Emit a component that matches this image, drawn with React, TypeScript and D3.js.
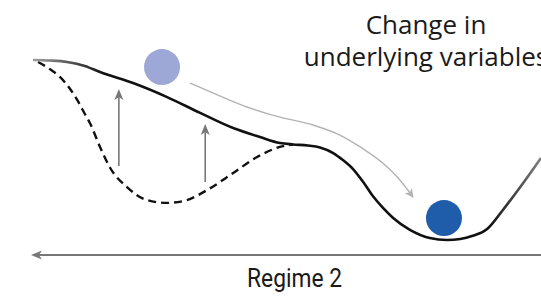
import React from "react";
import * as d3 from "d3";

const W = 541;
const H = 296;

// Landscape: state (0..10) vs potential (0..10)
const solidState = [0, 0.33, 0.67, 1.02, 1.32, 1.97, 2.64, 3.29, 3.94, 4.47, 4.86, 5.12, 5.41, 5.65, 5.91, 6.1, 6.3, 6.5, 6.69, 6.89, 7.09, 7.42, 7.81, 8.15, 8.41, 8.64, 8.94, 9.25, 9.65, 10];
const solidPotential = [10, 9.97, 9.89, 9.67, 9.33, 8.72, 7.94, 7.06, 6.22, 5.72, 5.39, 5.31, 5.25, 5.14, 4.83, 4.44, 3.94, 3.22, 2.44, 1.78, 1.22, 0.56, 0.11, 0, 0.06, 0.22, 0.61, 1.67, 3.17, 4.56];

const dashedState = [0.1, 0.33, 0.53, 0.73, 0.87, 1.0, 1.12, 1.32, 1.52, 1.85, 2.24, 2.64, 3.03, 3.43, 3.94, 4.41, 4.86, 5.12];
const dashedPotential = [9.89, 9.5, 9.06, 8.39, 7.78, 7.11, 6.5, 5.17, 4.0, 2.94, 2.22, 2.06, 2.22, 2.78, 3.72, 4.61, 5.17, 5.31];

const shiftState = [3.09, 3.54, 4.21, 4.86, 5.51, 6.04, 6.44, 6.93, 7.17, 7.48];
const shiftPotential = [8.72, 8.17, 7.39, 6.83, 6.39, 5.83, 5.17, 4.17, 3.5, 2.39];

const liftState = [1.69, 3.39];
const liftFrom = [4.11, 3.22];
const liftTo = [8.39, 6.44];

const ballState = [2.54, 8.09];
const ballPotential = [9.61, 1.22];
const ballColors = ["#9ea8d6", "#1f5dab"];

const axisPotential = -0.83;
const axisState = [-0.04, 10];

const titleLines = ["Change in", "underlying variables"];
const axisLabel = "Regime 2";

export default function App() {
  const x = d3.scaleLinear().domain([0, 10]).range([33, 541]);
  const y = d3.scaleLinear().domain([0, 10]).range([240, 60]);

  const line = d3
    .line<[number, number]>()
    .x((d) => x(d[0]))
    .y((d) => y(d[1]))
    .curve(d3.curveMonotoneX);

  const solid = line(solidState.map((s, i) => [s, solidPotential[i]]) as [number, number][]);
  const dashed = line(dashedState.map((s, i) => [s, dashedPotential[i]]) as [number, number][]);
  const shift = line(shiftState.map((s, i) => [s, shiftPotential[i]]) as [number, number][]);

  const ay = y(axisPotential);
  const ax0 = x(axisState[0]);
  const ax1 = x(axisState[1]);

  return (
    <svg width={W} height={H} style={{ position: "absolute", left: 0, top: 0 }}>
      <defs>
        <linearGradient id="solidGrad" gradientUnits="userSpaceOnUse" x1={x(0)} x2={x(10)} y1={0} y2={0}>
          <stop offset="0" stopColor="#a0a0a0" />
          <stop offset="0.14" stopColor="#111" />
          <stop offset="0.9" stopColor="#111" />
          <stop offset="1" stopColor="#808080" />
        </linearGradient>
        <marker id="shiftHead" viewBox="0 0 10 10" refX="9" refY="5" markerWidth="9" markerHeight="9" markerUnits="userSpaceOnUse" orient="auto">
          <path d="M0,0 L10,5 L0,10 L3,5 Z" fill="#b3b3b3" />
        </marker>
      </defs>

      {/* horizontal axis */}
      <line x1={ax0 + 8} x2={ax1} y1={ay} y2={ay} stroke="#777" strokeWidth={2} />
      <path d={`M${ax0},${ay} L${ax0 + 11},${ay - 4.5} L${ax0 + 8},${ay} L${ax0 + 11},${ay + 4.5} Z`} fill="#777" />

      {/* dashed previous landscape */}
      <path d={dashed ?? ""} fill="none" stroke="#111" strokeWidth={2.4} strokeDasharray="8,5" />

      {/* solid landscape */}
      <path d={solid ?? ""} fill="none" stroke="url(#solidGrad)" strokeWidth={2.6} />

      {/* lift arrows */}
      {liftState.map((s, i) => {
        const cx = x(s);
        const yb = y(liftFrom[i]);
        const yt = y(liftTo[i]);
        return (
          <g key={i}>
            <line x1={cx} x2={cx} y1={yb} y2={yt + 8} stroke="#777" strokeWidth={1.6} />
            <path d={`M${cx},${yt} L${cx + 4.5},${yt + 11} L${cx},${yt + 8} L${cx - 4.5},${yt + 11} Z`} fill="#777" />
          </g>
        );
      })}

      {/* shift arrow */}
      <path d={shift ?? ""} fill="none" stroke="#b3b3b3" strokeWidth={1.4} markerEnd="url(#shiftHead)" />

      {/* balls */}
      {ballState.map((s, i) => (
        <circle key={i} cx={x(s)} cy={y(ballPotential[i])} r={18} fill={ballColors[i]} />
      ))}

      {/* title */}
      <text x={426} y={34} textAnchor="middle" fontFamily="'Open Sans', 'Noto Sans', sans-serif" fontSize={26} fill="#1a1a1a">
        {titleLines[0]}
      </text>
      <text x={426} y={66} textAnchor="middle" fontFamily="'Open Sans', 'Noto Sans', sans-serif" fontSize={26} fill="#1a1a1a">
        {titleLines[1]}
      </text>

      {/* axis label */}
      <text
        x={294.5}
        y={287}
        textAnchor="middle"
        fontFamily="Roboto, sans-serif"
        fontSize={26}
        fill="#1a1a1a"
        textLength={95}
        lengthAdjust="spacingAndGlyphs"
      >
        {axisLabel}
      </text>
    </svg>
  );
}
